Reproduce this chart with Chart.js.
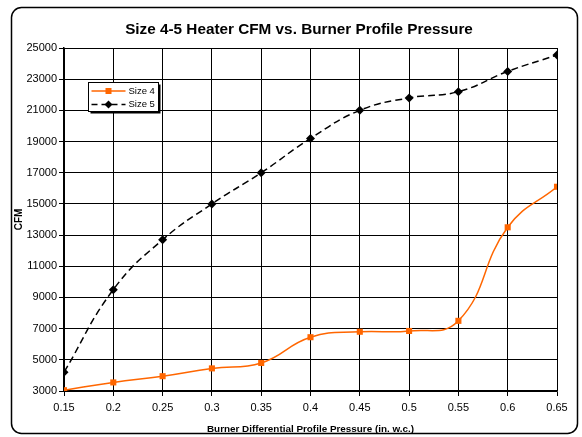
<!DOCTYPE html>
<html>
<head>
<meta charset="utf-8">
<script src="https://cdn.jsdelivr.net/npm/chart.js@4"></script>
<style>
  html, body { margin: 0; padding: 0; background: #fff; }
  #wrap { width: 582px; height: 437px; position: relative; }
</style>
</head>
<body>
<div id="wrap"><canvas id="heaterChart"></canvas></div>
<script>
// data
const pressures = [0.15, 0.2, 0.25, 0.3, 0.35, 0.4, 0.45, 0.5, 0.55, 0.6, 0.65];
const size4Cfm = [3050, 3550, 3950, 4450, 4800, 6450, 6800, 6850, 7500, 13500, 16100];
const size5Cfm = [4200, 9500, 12700, 15000, 17000, 19200, 21000, 21800, 22200, 23500, 24550];
const seriesNames = ['Size 4', 'Size 5'];
const chartTitle = 'Size 4-5 Heater CFM vs. Burner Profile Pressure';

const FONT = 'Arial, "Liberation Sans", sans-serif';
const ORANGE = '#FF6600';

Chart.defaults.font.family = FONT;
Chart.defaults.color = '#000';

function toPoints(ys) {
    return pressures.map((x, i) => ({ x: x, y: ys[i] }));
}

// rounded outer frame, title (sits a bit right of centre) and the boxed legend
const framePlugin = {
    id: 'frame',
    beforeDraw(chart) {
        const ctx = chart.ctx;
        ctx.save();
        ctx.fillStyle = '#fff';
        ctx.fillRect(0, 0, chart.width, chart.height);
        ctx.restore();
    },
    afterDraw(chart) {
        const ctx = chart.ctx;
        ctx.save();
        // outer frame
        ctx.strokeStyle = '#000';
        ctx.lineWidth = 1.5;
        ctx.beginPath();
        ctx.roundRect(11.5, 7.5, 566, 426, 10);
        ctx.stroke();

        // title
        ctx.fillStyle = '#000';
        ctx.font = 'bold 15.3px ' + FONT;
        ctx.textAlign = 'center';
        ctx.textBaseline = 'middle';
        ctx.fillText(chartTitle, 299, 30);
        ctx.textAlign = 'left';

        // legend box
        const lx = 88.5, ly = 82.5, lw = 70, lh = 29;
        ctx.fillStyle = '#000';
        ctx.fillRect(lx + 2, ly + 2, lw, lh);
        ctx.fillStyle = '#fff';
        ctx.fillRect(lx, ly, lw, lh);
        ctx.lineWidth = 1;
        ctx.strokeRect(lx, ly, lw, lh);

        ctx.font = '9.5px ' + FONT;
        const rows = [ly + 8.5, ly + 22];
        // Size 4
        ctx.strokeStyle = ORANGE;
        ctx.lineWidth = 1.5;
        ctx.setLineDash([]);
        ctx.beginPath();
        ctx.moveTo(lx + 3, rows[0]);
        ctx.lineTo(lx + 37, rows[0]);
        ctx.stroke();
        ctx.fillStyle = ORANGE;
        ctx.fillRect(lx + 17, rows[0] - 3, 6, 6);
        // Size 5
        ctx.strokeStyle = '#000';
        ctx.setLineDash([6, 4]);
        ctx.beginPath();
        ctx.moveTo(lx + 3, rows[1]);
        ctx.lineTo(lx + 37, rows[1]);
        ctx.stroke();
        ctx.setLineDash([]);
        ctx.fillStyle = '#000';
        ctx.beginPath();
        ctx.moveTo(lx + 20, rows[1] - 4);
        ctx.lineTo(lx + 24, rows[1]);
        ctx.lineTo(lx + 20, rows[1] + 4);
        ctx.lineTo(lx + 16, rows[1]);
        ctx.closePath();
        ctx.fill();

        ctx.fillStyle = '#000';
        ctx.fillText(seriesNames[0], lx + 40, rows[0]);
        ctx.fillText(seriesNames[1], lx + 40, rows[1]);
        ctx.restore();
    }
};

const ctx = document.getElementById('heaterChart').getContext('2d');
new Chart(ctx, {
    type: 'line',
    data: {
        datasets: [{
            label: seriesNames[0],
            data: toPoints(size4Cfm),
            borderColor: ORANGE,
            backgroundColor: ORANGE,
            borderWidth: 1.5,
            pointStyle: 'rect',
            pointRadius: 4.3,
            pointBorderWidth: 0,
            tension: 0.45
        }, {
            label: seriesNames[1],
            data: toPoints(size5Cfm),
            borderColor: '#000',
            backgroundColor: '#000',
            borderWidth: 1.5,
            borderDash: [7, 4],
            pointStyle: 'rectRot',
            pointRadius: 4.5,
            pointBorderWidth: 0,
            tension: 0.45
        }]
    },
    options: {
        responsive: true,
        maintainAspectRatio: false,
        animation: false,
        layout: { padding: { left: 0, right: 25, top: 48, bottom: 0 } },
        plugins: {
            legend: { display: false },
            tooltip: { enabled: false },
            title: { display: false }
        },
        scales: {
            x: {
                type: 'linear',
                min: 0.15,
                max: 0.65,
                afterFit: s => { s.height = 46; },
                ticks: {
                    stepSize: 0.05,
                    padding: 5,
                    font: { size: 11 },
                    color: '#000',
                    maxRotation: 0,
                    callback: v => String(parseFloat(v.toFixed(2)))
                },
                grid: { color: '#000', lineWidth: 1, tickLength: 5, tickColor: '#000' },
                border: { color: '#000', width: 1.5 },
                title: {
                    display: true,
                    text: 'Burner Differential Profile Pressure (in. w.c.)',
                    color: '#000',
                    font: { size: 9.9, weight: 'bold' },
                    padding: { top: 0, bottom: 2 }
                }
            },
            y: {
                min: 3000,
                max: 25000,
                afterFit: s => { s.width = 64; },
                ticks: {
                    stepSize: 2000,
                    padding: 2,
                    font: { size: 11 },
                    color: '#000',
                    callback: v => String(v)
                },
                grid: { color: '#000', lineWidth: 1, tickLength: 5, tickColor: '#000' },
                border: { color: '#000', width: 1.5 },
                title: {
                    display: true,
                    text: 'CFM',
                    color: '#000',
                    font: { size: 10, weight: 'bold' },
                    padding: { top: 13, bottom: 0 }
                }
            }
        }
    },
    plugins: [framePlugin]
});
</script>
</body>
</html>
